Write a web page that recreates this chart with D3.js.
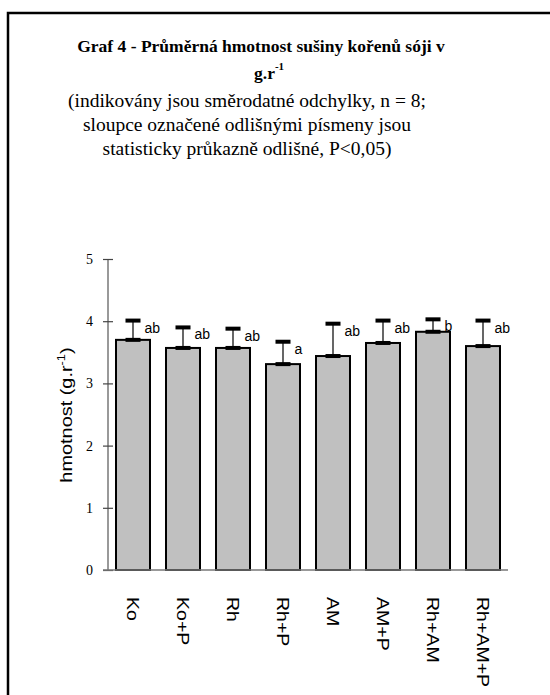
<!DOCTYPE html>
<html>
<head>
<meta charset="utf-8">
<script src="https://cdn.jsdelivr.net/npm/d3@7"></script>
<style>
  html, body { margin: 0; padding: 0; background: #fff; overflow: hidden; }
  svg { display: block; }
</style>
</head>
<body>
<svg id="chart" width="550" height="695"></svg>
<script>
// data
const categories = ["Ko", "Ko+P", "Rh", "Rh+P", "AM", "AM+P", "Rh+AM", "Rh+AM+P"];
const means = [3.70, 3.57, 3.57, 3.31, 3.44, 3.65, 3.83, 3.60];
const sds = [0.31, 0.33, 0.31, 0.36, 0.52, 0.36, 0.20, 0.41];
const letters = ["ab", "ab", "ab", "a", "ab", "ab", "b", "ab"];
const yTicks = [0, 1, 2, 3, 4, 5];

const serif = "'Liberation Serif', 'Times New Roman', serif";
const sans = "'Liberation Sans', Arial, sans-serif";

const svg = d3.select("#chart");
svg.append("rect").attr("width", 550).attr("height", 695).attr("fill", "#fff");

// title block
svg.append("text")
  .attr("x", 261).attr("y", 52)
  .attr("text-anchor", "middle")
  .attr("font-family", serif)
  .attr("font-size", 17.5).attr("font-weight", "bold")
  .text("Graf 4 - Průměrná hmotnost sušiny kořenů sóji v");
const t2 = svg.append("text")
  .attr("x", 254).attr("y", 79)
  .attr("font-family", serif)
  .attr("font-size", 17.5).attr("font-weight", "bold");
t2.append("tspan").text("g.r");
t2.append("tspan").attr("font-size", 11).attr("dy", -9).text("-1");

const sub = [
  "(indikovány jsou směrodatné odchylky, n = 8;",
  "sloupce označené odlišnými písmeny jsou",
  "statisticky průkazně odlišné, P<0,05)"
];
svg.selectAll("text.sub")
  .data(sub)
  .join("text")
  .attr("class", "sub")
  .attr("x", 247)
  .attr("y", (d, i) => 107 + i * 24)
  .attr("text-anchor", "middle")
  .attr("font-family", serif)
  .attr("font-size", 19.5)
  .text(d => d);

// scales
const x = d3.scaleBand()
  .domain(categories)
  .range([108, 508])
  .paddingInner(0.32)
  .paddingOuter(0.16);
const y = d3.scaleLinear().domain([0, 5]).range([570, 259]);
const cx = i => x(categories[i]) + x.bandwidth() / 2;

// bars
svg.append("g")
  .selectAll("rect")
  .data(means)
  .join("rect")
  .attr("x", (d, i) => x(categories[i]))
  .attr("y", d => y(d))
  .attr("width", x.bandwidth())
  .attr("height", d => y(0) - y(d))
  .attr("fill", "#c0c0c0")
  .attr("stroke", "#000")
  .attr("stroke-width", 2);

// error bars
const err = svg.append("g");
err.selectAll("line")
  .data(means)
  .join("line")
  .attr("x1", (d, i) => cx(i)).attr("x2", (d, i) => cx(i))
  .attr("y1", d => y(d))
  .attr("y2", (d, i) => y(d + sds[i]))
  .attr("stroke", "#000").attr("stroke-width", 1.2);
err.selectAll("rect.cap")
  .data(means)
  .join("rect")
  .attr("class", "cap")
  .attr("x", (d, i) => cx(i) - 7.5)
  .attr("y", (d, i) => y(d + sds[i]) - 2)
  .attr("width", 15).attr("height", 4)
  .attr("fill", "#000");
err.selectAll("rect.base")
  .data(means)
  .join("rect")
  .attr("class", "base")
  .attr("x", (d, i) => cx(i) - 7.5)
  .attr("y", d => y(d) - 2)
  .attr("width", 15).attr("height", 4)
  .attr("fill", "#000");

// significance letters
svg.append("g")
  .selectAll("text")
  .data(letters)
  .join("text")
  .attr("x", (d, i) => cx(i) + 11.5)
  .attr("y", (d, i) => y(means[i] + sds[i]) + 12)
  .attr("font-family", sans)
  .attr("font-size", 14)
  .text(d => d);

// y axis
const yAxis = svg.append("g")
  .attr("transform", "translate(108,0)")
  .call(d3.axisLeft(y).tickValues(yTicks).tickFormat(d3.format("d"))
    .tickSizeInner(5).tickSizeOuter(0).tickPadding(10));
yAxis.attr("font-family", serif).attr("font-size", 14);
yAxis.select(".domain").attr("stroke", "#777").attr("stroke-width", 1.5)
  .attr("d", "M0," + y(0) + "V" + y(5));
yAxis.selectAll(".tick line").attr("x1", 5).attr("stroke", "#444").attr("stroke-width", 1.2);
yAxis.selectAll(".tick text").attr("fill", "#000");

// x axis line
svg.append("line")
  .attr("x1", 103).attr("x2", 508)
  .attr("y1", y(0)).attr("y2", y(0))
  .attr("stroke", "#777").attr("stroke-width", 1.5);

// x labels, rotated
svg.append("g")
  .selectAll("text")
  .data(categories)
  .join("text")
  .attr("transform", (d, i) => "translate(" + cx(i) + ",597) rotate(90) scale(1.15,1)")
  .attr("dy", "0.35em")
  .attr("font-family", sans)
  .attr("font-size", 17)
  .text(d => d);

// y title
const yt = svg.append("text")
  .attr("transform", "translate(72,415) rotate(-90) scale(1.17,1)")
  .attr("text-anchor", "middle")
  .attr("font-family", sans)
  .attr("font-size", 17);
yt.append("tspan").text("hmotnost (g.r");
yt.append("tspan").attr("font-size", 11).attr("dy", -7).text("-1");
yt.append("tspan").attr("dy", 7).text(")");

// frame round the chart, drawn last (only its left and top edges fall inside the picture)
svg.append("rect")
  .attr("x", 8).attr("y", 13)
  .attr("width", 700).attr("height", 800)
  .attr("fill", "none")
  .attr("stroke", "#000")
  .attr("stroke-width", 2.5);
</script>
</body>
</html>
